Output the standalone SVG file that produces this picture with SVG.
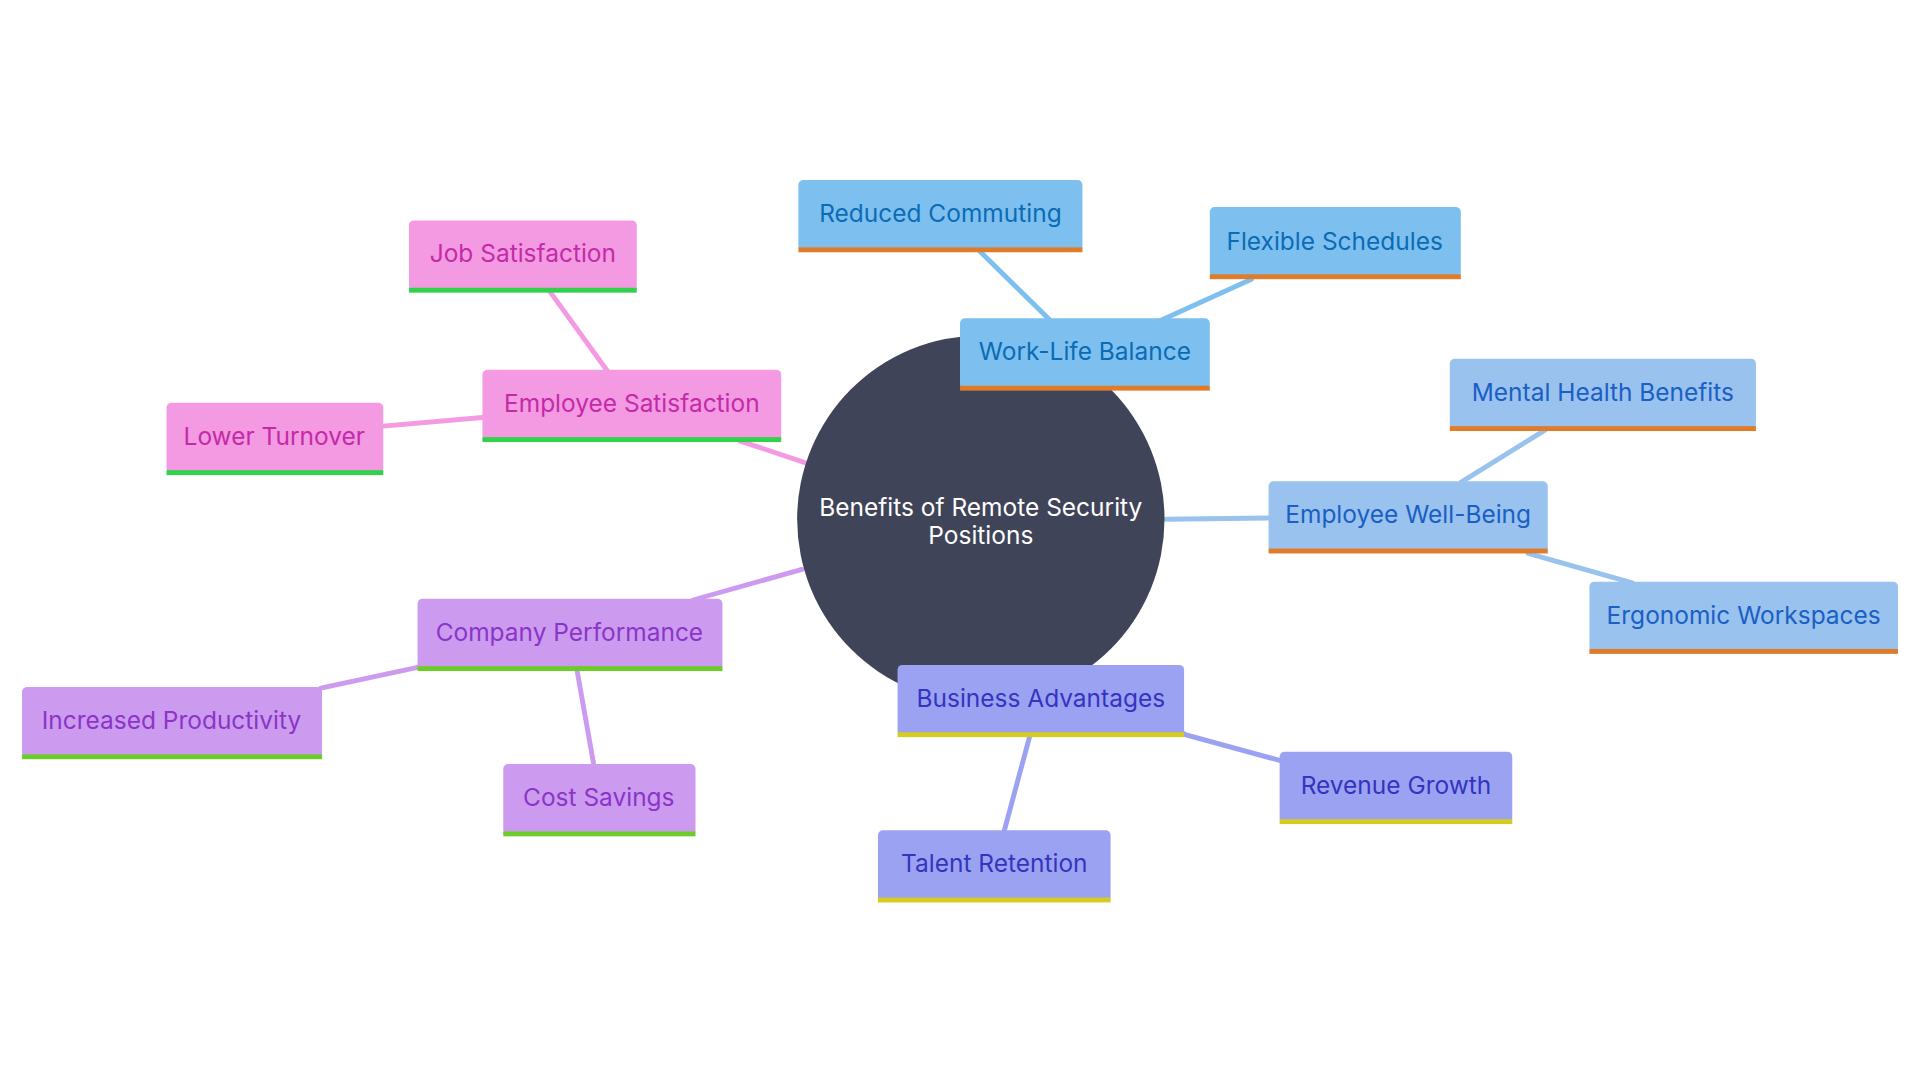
<svg xmlns="http://www.w3.org/2000/svg" width="1920" height="1080" viewBox="0 0 1920 1080">
<style>
text{font-family:"Inter","Noto Sans",sans-serif;font-size:20px;text-anchor:middle;dominant-baseline:central}
.c path{fill:none;stroke-width:4;stroke-linecap:round}
.wl rect.b{fill:#7DC0F0}.wl text{fill:#0B6BB5}.wl rect.s{fill:#E07B2A}
.ew rect.b{fill:#99C2EE}.ew text{fill:#1A5FC4}.ew rect.s{fill:#E07B2A}
.ba rect.b{fill:#9CA2F2}.ba text{fill:#3434C0}.ba rect.s{fill:#D4CC20}
.cp rect.b{fill:#CC9BF0}.cp text{fill:#8A35C8}.cp rect.s{fill:#6CCC2A}
.es rect.b{fill:#F39AE2}.es text{fill:#C42AA8}.es rect.s{fill:#2FD24A}
</style>
<rect width="1920" height="1080" fill="#fff"/>
<g transform="scale(1.2245)">
<g class="c" id="connectors">
<path d="M800 205L858 262M1022 228L945 263" stroke="#7DC0F0"/>
<path d="M952 424L1036 423M1262 351L1193 394M1248 452L1333 476" stroke="#99C2EE"/>
<path d="M900 560L968 600L1045 621M841 601L820 679" stroke="#9CA2F2"/>
<path d="M655 465L566 490M341 545L262 562M471 546L485 625" stroke="#CC9BF0"/>
<path d="M604 360L658 378M449 238L496 303M313 348L394 341" stroke="#F39AE2"/>
</g>
<g id="center"><circle cx="801" cy="424" r="150" fill="#404459"/>
<text x="801" y="414" fill="#fff">Benefits of Remote Security</text><text x="801" y="437" fill="#fff">Positions</text></g>
<g id="wlb" class="wl"><rect class="b" x="784" y="260" width="204" height="58" rx="4"/><rect class="s" x="784" y="315" width="204" height="4"/><text x="886" y="287">Work-Life Balance</text></g>
<g id="rc" class="wl"><rect class="b" x="652" y="147" width="232" height="58" rx="4"/><rect class="s" x="652" y="202" width="232" height="4"/><text x="768" y="174">Reduced Commuting</text></g>
<g id="fs" class="wl"><rect class="b" x="988" y="169" width="205" height="58" rx="4"/><rect class="s" x="988" y="224" width="205" height="4"/><text x="1090" y="197">Flexible Schedules</text></g>
<g id="ewb" class="ew"><rect class="b" x="1036" y="393" width="228" height="58" rx="4"/><rect class="s" x="1036" y="448" width="228" height="4"/><text x="1150" y="420">Employee Well-Being</text></g>
<g id="mh" class="ew"><rect class="b" x="1184" y="293" width="250" height="58" rx="4"/><rect class="s" x="1184" y="348" width="250" height="4"/><text x="1309" y="320">Mental Health Benefits</text></g>
<g id="ergo" class="ew"><rect class="b" x="1298" y="475" width="252" height="58" rx="4"/><rect class="s" x="1298" y="530" width="252" height="4"/><text x="1424" y="502">Ergonomic Workspaces</text></g>
<g id="bad" class="ba"><rect class="b" x="733" y="543" width="234" height="58" rx="4"/><rect class="s" x="733" y="598" width="234" height="4"/><text x="850" y="570">Business Advantages</text></g>
<g id="rg" class="ba"><rect class="b" x="1045" y="614" width="190" height="58" rx="4"/><rect class="s" x="1045" y="669" width="190" height="4"/><text x="1140" y="641">Revenue Growth</text></g>
<g id="tr" class="ba"><rect class="b" x="717" y="678" width="190" height="58" rx="4"/><rect class="s" x="717" y="733" width="190" height="4"/><text x="812" y="705">Talent Retention</text></g>
<g id="cpf" class="cp"><rect class="b" x="341" y="489" width="249" height="58" rx="4"/><rect class="s" x="341" y="544" width="249" height="4"/><text x="465" y="516">Company Performance</text></g>
<g id="ip" class="cp"><rect class="b" x="18" y="561" width="245" height="58" rx="4"/><rect class="s" x="18" y="616" width="245" height="4"/><text x="140" y="588">Increased Productivity</text></g>
<g id="cs" class="cp"><rect class="b" x="411" y="624" width="157" height="58" rx="4"/><rect class="s" x="411" y="679" width="157" height="4"/><text x="489" y="651">Cost Savings</text></g>
<g id="esat" class="es"><rect class="b" x="394" y="302" width="244" height="58" rx="4"/><rect class="s" x="394" y="357" width="244" height="4"/><text x="516" y="329">Employee Satisfaction</text></g>
<g id="js" class="es"><rect class="b" x="334" y="180" width="186" height="58" rx="4"/><rect class="s" x="334" y="235" width="186" height="4"/><text x="427" y="207">Job Satisfaction</text></g>
<g id="lt" class="es"><rect class="b" x="136" y="329" width="177" height="58" rx="4"/><rect class="s" x="136" y="384" width="177" height="4"/><text x="224" y="356">Lower Turnover</text></g>
</g>
</svg>
